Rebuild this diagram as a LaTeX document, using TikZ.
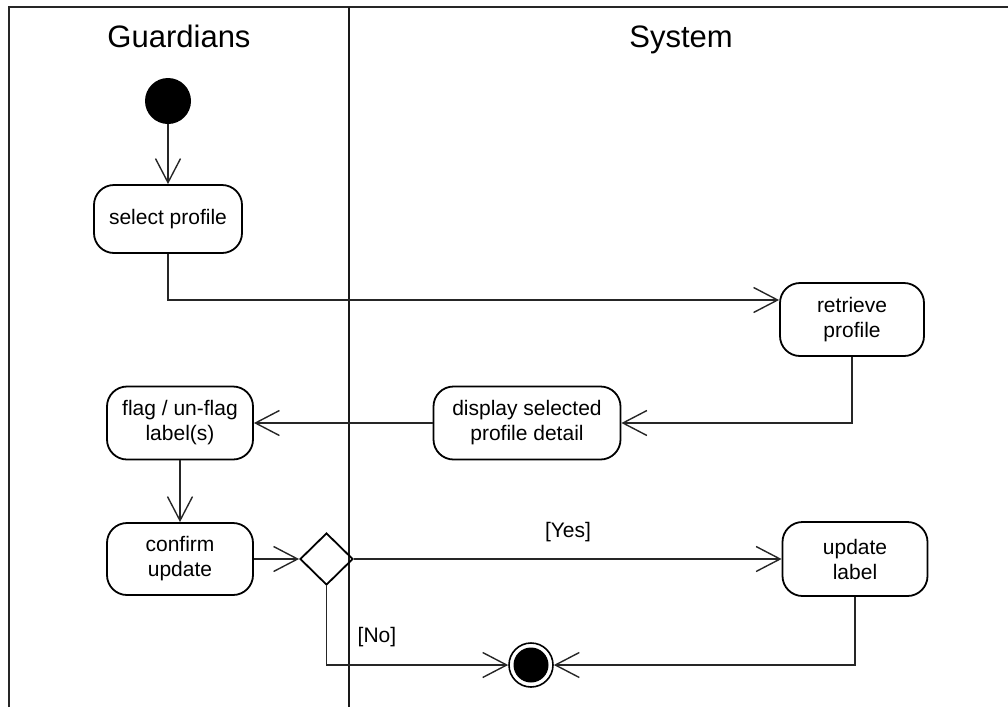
\documentclass[tikz,border=0pt]{standalone}
\usepackage{fontspec}
\setmainfont{Liberation Sans}
\usetikzlibrary{arrows.meta,shapes.geometric}
\begin{document}
\begin{tikzpicture}[x=1pt,y=-1pt,
  act/.style={draw=black,line width=1.8pt,rounded corners=20pt,align=center,inner sep=0pt,
    font=\fontsize{21}{25}\selectfont},
  flow/.style={draw=black!85,line width=1.4pt,-{Straight Barb[length=24pt,width=25pt,line width=1.4pt]}},
  frame/.style={draw=black!85,line width=2.4pt},
  lane/.style={font=\fontsize{31}{36}\selectfont,anchor=base},
  guard/.style={font=\fontsize{21}{25}\selectfont}]
\useasboundingbox (0,0) rectangle (1008,707);
% frame
\coordinate (tl) at (9,7);
\coordinate (tr) at (1008,7);
\coordinate (bl) at (9,707);
\coordinate (dt) at (349,7);
\coordinate (db) at (349,707);
\draw[frame] (bl) -- (tl) -- (tr);
\draw[line width=1.6pt,draw=black!90] (dt) -- (db);
\node[lane] (hg) at (179,47) {Guardians};
\node[lane] (hs) at (681,47) {System};
% nodes
\node[circle,fill=black,minimum size=46pt,inner sep=0pt] (start) at (168,101) {};
\node[act,minimum width=148pt,minimum height=68pt] (sel) at (168,219) {select profile};
\node[act,minimum width=144pt,minimum height=73pt] (ret) at (852,319.5) {retrieve\\profile};
\node[act,minimum width=187pt,minimum height=73pt] (disp) at (527,423) {display selected\\profile detail};
\node[act,minimum width=146pt,minimum height=73pt] (flag) at (180,423) {flag / un-flag\\label(s)};
\node[act,minimum width=146pt,minimum height=72pt] (conf) at (180,559) {confirm\\update};
\node[diamond,draw=black,line width=1.8pt,minimum width=53pt,minimum height=52pt,inner sep=0pt] (dec) at (326.5,559) {};
\node[act,minimum width=145pt,minimum height=74pt] (upd) at (855,559) {update\\label};
\node[circle,draw=black,line width=1.6pt,minimum size=44pt,inner sep=0pt] (end) at (531,665) {};
\node[circle,fill=black,minimum size=35pt,inner sep=0pt] (endin) at (531,665) {};
% labels
\node[guard] (yes) at (568,532) {[Yes]};
\node[guard] (no) at (377,637) {[No]};
% connectors
\draw[flow] (start) -- (sel);
\draw[flow] (sel.south) |- ([yshift=19.5pt]ret.west);
\draw[flow] (ret.south) |- (disp.east);
\draw[flow] (disp) -- (flag);
\draw[flow] (flag) -- (conf);
\draw[flow] (conf) -- (dec);
\draw[flow] (dec.east) -- (upd.west);
\draw[flow] (dec.south) |- (end);
\draw[flow] (upd.south) |- (end);
\end{tikzpicture}
\end{document}
